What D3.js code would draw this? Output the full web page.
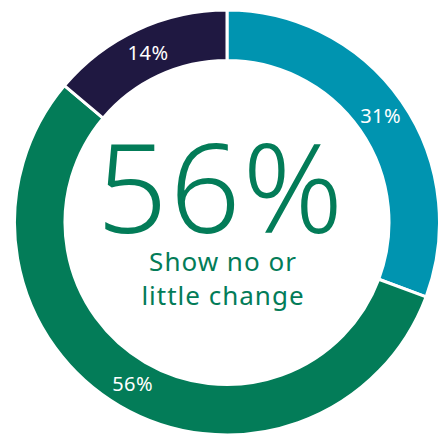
<!DOCTYPE html>
<html>
<head>
<meta charset="utf-8">
<script src="https://cdn.jsdelivr.net/npm/d3@7"></script>
<style>
  html, body { margin: 0; padding: 0; background: #fff; }
  svg { display: block; }
</style>
</head>
<body>
<div id="chart"></div>
<script>
// Donut: share of respondents by change category
const categories = ['Increase', 'No or little change', 'Decrease'];
const values = [31, 56, 14];
const labels = ['31%', '56%', '14%'];
const colors = ['#0094b0', '#037c58', '#1f1841'];
const headline = '56%';
const captionLines = ['Show no or', 'little change'];

const W = 439, H = 437;
const cx = 227, cy = 222.5;
const outerR = 212.5, innerR = 162;
const font = '"Noto Sans", "Open Sans", sans-serif';

const svg = d3.select('#chart').append('svg')
  .attr('width', W).attr('height', H)
  .attr('viewBox', `0 0 ${W} ${H}`);

const g = svg.append('g').attr('transform', `translate(${cx},${cy})`);

const pie = d3.pie().sort(null).value(d => d.value);
const arcs = pie(categories.map((c, i) => ({ cat: c, value: values[i], label: labels[i], color: colors[i] })));

const arc = d3.arc().innerRadius(innerR).outerRadius(outerR);
const labelArc = d3.arc().innerRadius(innerR + 25).outerRadius(innerR + 25);

g.selectAll('path.slice')
  .data(arcs)
  .join('path')
  .attr('class', 'slice')
  .attr('d', arc)
  .attr('fill', d => d.data.color)
  .attr('stroke', '#fff')
  .attr('stroke-width', 3);

g.selectAll('text.slice-label')
  .data(arcs)
  .join('text')
  .attr('class', 'slice-label')
  .attr('transform', d => `translate(${labelArc.centroid(d)})`)
  .attr('text-anchor', 'middle')
  .attr('dominant-baseline', 'central')
  .attr('font-family', font)
  .attr('font-size', '20px')
  .attr('font-weight', 400)
  .attr('letter-spacing', '0.5px')
  .attr('fill', '#fff')
  .text(d => d.data.label);

// centre text
g.append('text')
  .attr('x', -6).attr('y', 10)
  .attr('text-anchor', 'middle')
  .attr('font-family', font)
  .attr('font-size', '124px')
  .attr('font-weight', 300)
  .attr('letter-spacing', '2px')
  .attr('fill', colors[1])
  .text(headline);

captionLines.forEach((t, i) => {
  g.append('text')
    .attr('x', -4).attr('y', 48 + i * 34)
    .attr('text-anchor', 'middle')
    .attr('font-family', font)
    .attr('font-size', '26px')
    .attr('font-weight', 400)
    .attr('letter-spacing', '1px')
    .attr('fill', colors[1])
    .text(t);
});
</script>
</body>
</html>
